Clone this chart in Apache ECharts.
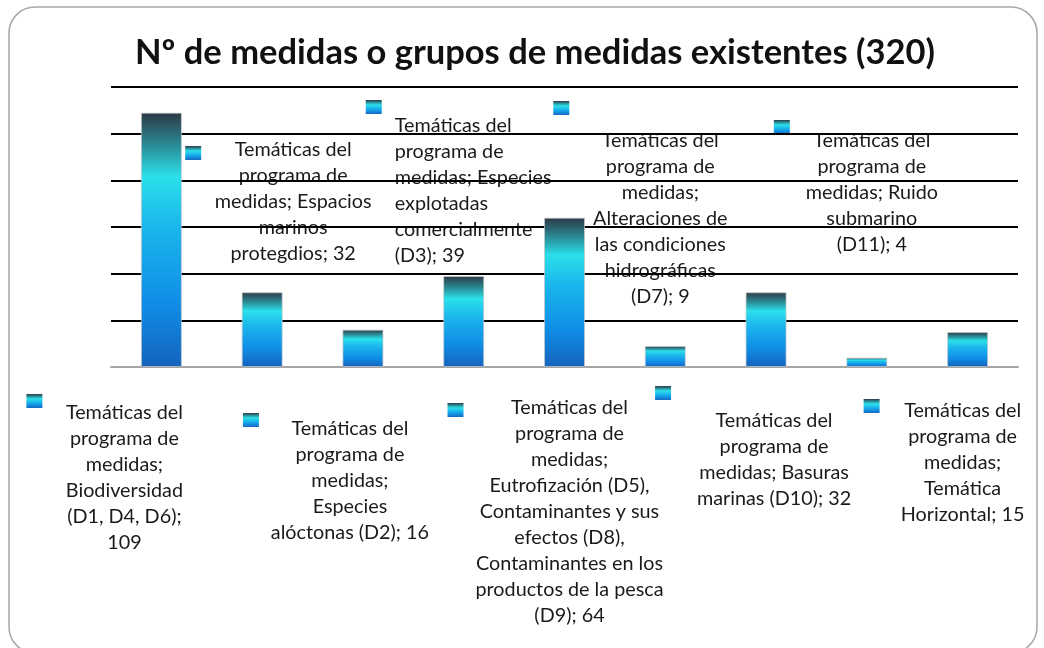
<!DOCTYPE html>
<html>
<head>
<meta charset="utf-8">
<script src="https://cdn.jsdelivr.net/npm/echarts@6/dist/echarts.min.js"></script>
<style>html,body{margin:0;padding:0;background:#fff}#c{width:1044px;height:648px}</style>
</head>
<body>
<div id="c"></div>
<script>
const titleText = 'Nº de medidas o grupos de medidas existentes (320)';
const seriesName = 'Temáticas del programa de medidas';
const categories = [
  'Biodiversidad (D1, D4, D6)',
  'Espacios marinos protegdios',
  'Especies alóctonas (D2)',
  'Especies explotadas comercialmente (D3)',
  'Eutrofización (D5), Contaminantes y sus efectos (D8), Contaminantes en los productos de la pesca (D9)',
  'Alteraciones de las condiciones hidrográficas (D7)',
  'Basuras marinas (D10)',
  'Ruido submarino (D11)',
  'Temática Horizontal'
];
const values = [109, 32, 16, 39, 64, 9, 32, 4, 15];
// wrapped label texts ({v} = value)
const labelWrap = [
  'Temáticas del\nprograma de\nmedidas;\nBiodiversidad\n(D1, D4, D6);\n{v}',
  'Temáticas del\nprograma de\nmedidas; Espacios\nmarinos\nprotegdios; {v}',
  'Temáticas del\nprograma de\nmedidas;\nEspecies\nalóctonas (D2); {v}',
  'Temáticas del\nprograma de\nmedidas; Especies\nexplotadas\ncomercialmente\n(D3); {v}',
  'Temáticas del\nprograma de\nmedidas;\nEutrofización (D5),\nContaminantes y sus\nefectos (D8),\nContaminantes en los\nproductos de la pesca\n(D9); {v}',
  'Temáticas del\nprograma de\nmedidas;\nAlteraciones de\nlas condiciones\nhidrográficas\n(D7); {v}',
  'Temáticas del\nprograma de\nmedidas; Basuras\nmarinas (D10); {v}',
  'Temáticas del\nprograma de\nmedidas; Ruido\nsubmarino\n(D11); {v}',
  'Temáticas del\nprograma de\nmedidas;\nTemática\nHorizontal; {v}'
];
// label layout relative to category centre on the baseline: [keyDx, keyDy, textDx, textTopDy, align]
const labelLayout = [
  [-135, 27, -37, 33, 'center'],
  [-77, -221, 31, -230, 'center'],
  [-120, 46, -13, 49, 'center'],
  [-98, -267, -69, -254, 'left'],
  [-117, 36, 5, 28, 'center'],
  [-112, -266, -5, -239, 'center'],
  [-111, 19, 8, 41, 'center'],
  [-93, -247, 5, -239, 'center'],
  [-104, 32, -5, 31, 'center']
];

const chart = echarts.init(document.getElementById('c'), null, {renderer: 'canvas'});
const barGrad = () => new echarts.graphic.LinearGradient(0, 0, 0, 1, [
  {offset: 0, color: '#2c3845'},
  {offset: 0.12, color: '#2a8590'},
  {offset: 0.25, color: '#2be0ea'},
  {offset: 0.45, color: '#1bb6ec'},
  {offset: 0.75, color: '#0f8de6'},
  {offset: 1, color: '#1563bd'}
]);
const keyGrad = () => new echarts.graphic.LinearGradient(0, 0, 0, 1, [
  {offset: 0, color: '#2c3845'},
  {offset: 0.15, color: '#2a8590'},
  {offset: 0.35, color: '#2be0ea'},
  {offset: 0.7, color: '#15a4ea'},
  {offset: 1, color: '#1468c4'}
]);
const FONT = 'Lato';

chart.setOption({
  animation: false,
  backgroundColor: '#ffffff',
  title: {
    text: titleText,
    left: 130,
    top: 30,
    textStyle: {fontFamily: FONT, fontWeight: 'bold', fontSize: 34.5, color: '#111111'}
  },
  graphic: [{
    type: 'rect',
    shape: {x: 9, y: 7, width: 1028, height: 646, r: 26},
    style: {fill: null, stroke: '#a6a6a6', lineWidth: 1.5},
    silent: true, z: -10
  }],
  grid: {left: 111, right: 26, top: 87, bottom: 281, containLabel: false},
  xAxis: {
    type: 'category',
    data: categories,
    axisLine: {show: true, lineStyle: {color: '#a6a6a6', width: 2}},
    axisTick: {show: false},
    axisLabel: {show: false},
    splitLine: {show: false}
  },
  yAxis: {
    type: 'value',
    min: 0, max: 120, interval: 20,
    axisLine: {show: false},
    axisTick: {show: false},
    axisLabel: {show: false},
    splitLine: {show: true, lineStyle: {color: '#000000', width: 2}}
  },
  series: [
    {
      name: seriesName,
      type: 'bar',
      data: values,
      barWidth: 41,
      itemStyle: {color: barGrad(), borderColor: 'rgba(200,200,200,0.7)', borderWidth: 1},
      z: 2
    },
    {
      name: seriesName,
      type: 'custom',
      data: values.map((v, i) => [i, v]),
      encode: {x: 0, y: 1},
      clip: false,
      silent: true,
      z: -1,
      renderItem: function (params, api) {
        const i = params.dataIndex;
        const base = api.coord([i, 0]);
        const L = labelLayout[i];
        const txt = labelWrap[i].replace('{v}', String(values[i]));
        return {
          type: 'group',
          children: [
            {
              type: 'rect',
              shape: {x: base[0] + L[0], y: base[1] + L[1], width: 16, height: 14},
              style: {fill: keyGrad()}
            },
            {
              type: 'text',
              x: base[0] + L[2],
              y: base[1] + L[3],
              style: {
                text: txt,
                fill: '#1a1a1a',
                fontFamily: FONT,
                fontSize: 19.8,
                lineHeight: 26,
                align: L[4], textAlign: L[4],
                verticalAlign: 'top', textVerticalAlign: 'top'
              }
            }
          ]
        };
      }
    }
  ]
});
</script>
</body>
</html>
